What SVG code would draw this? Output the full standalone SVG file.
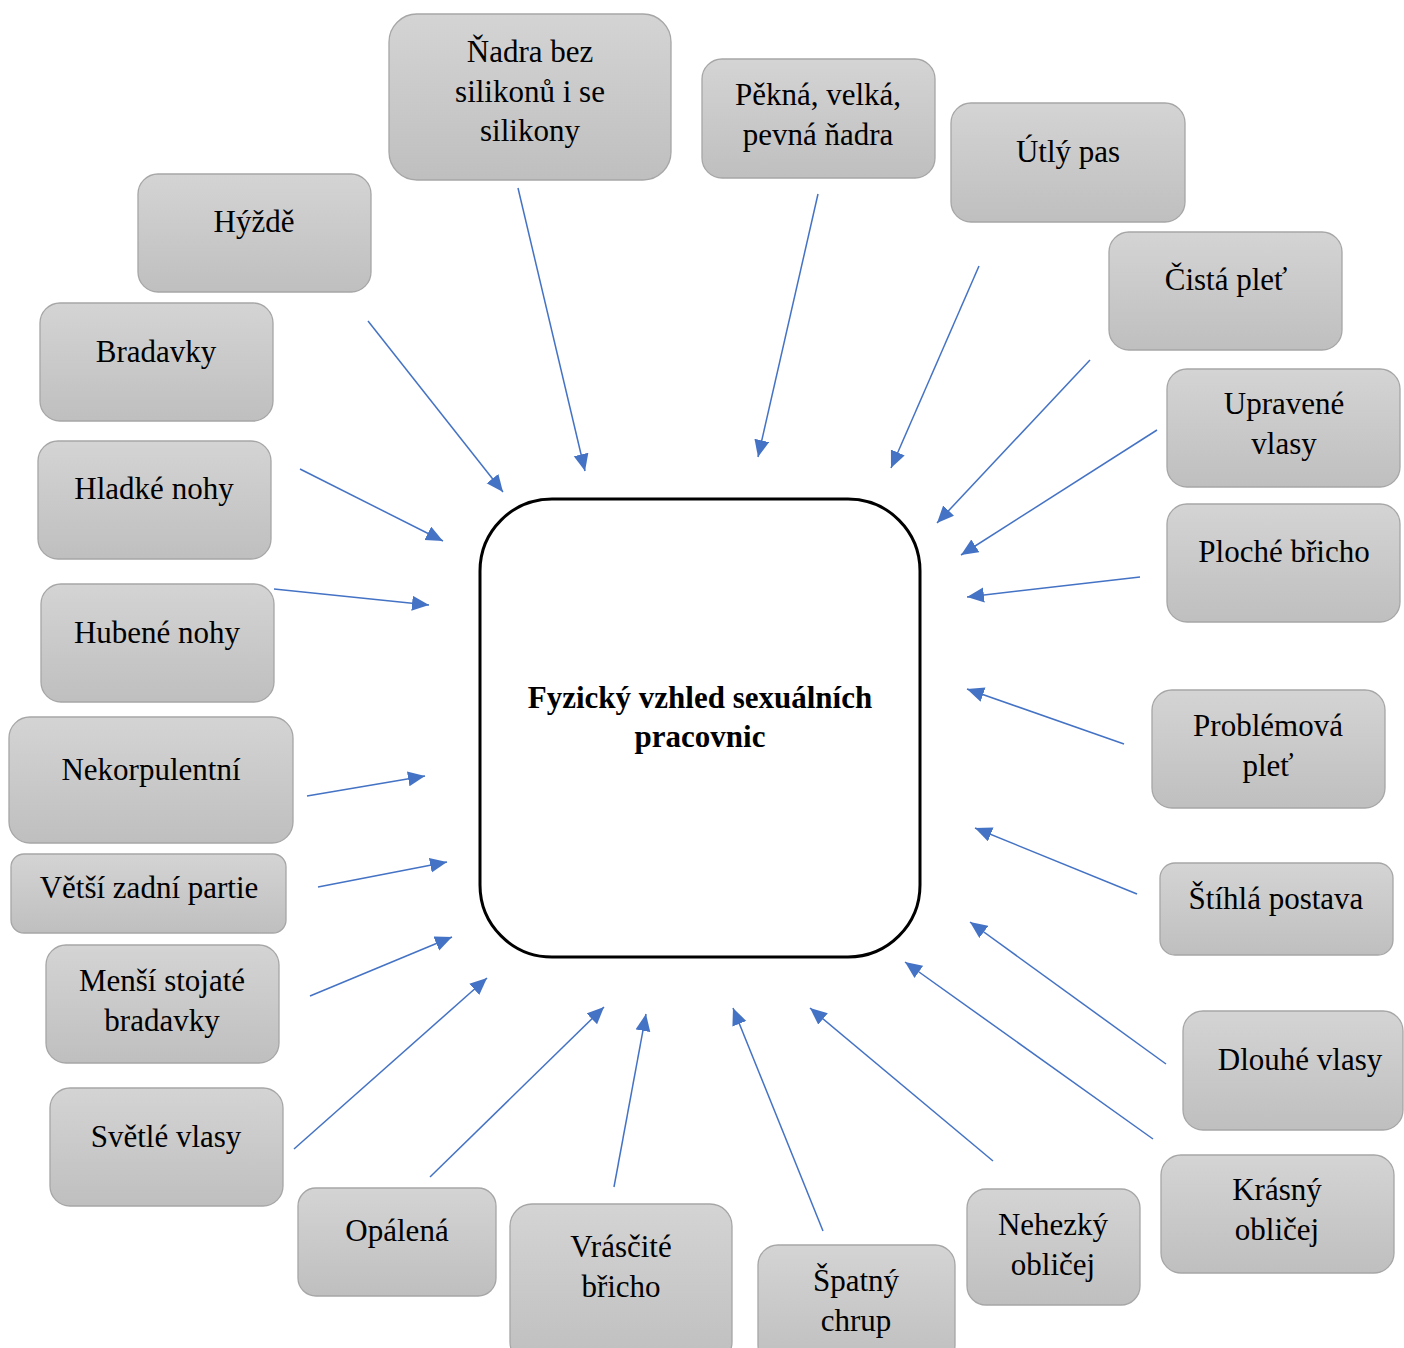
<svg xmlns="http://www.w3.org/2000/svg" width="1404" height="1348" viewBox="0 0 1404 1348">
<style>
.n rect{fill:url(#g);stroke:#a6a6a6;stroke-width:1.3}
.n text,.c text{font-family:"Liberation Serif","Times New Roman",serif;font-size:31px;fill:#000;text-anchor:middle}
.c text{font-weight:bold}
#edges line{stroke:#4472c4;stroke-width:1.5;marker-end:url(#a)}
</style>
<defs>
<linearGradient id="g" x1="0" y1="0" x2="0" y2="1">
<stop offset="0" stop-color="#d4d4d4"/>
<stop offset="1" stop-color="#bfbfbf"/>
</linearGradient>
<marker id="a" markerUnits="userSpaceOnUse" markerWidth="18" markerHeight="16" refX="17" refY="7.5" orient="auto">
<path d="M0,0 L17,7.5 L0,15 z" fill="#4472c4"/>
</marker>
</defs>
<rect width="1404" height="1348" fill="#fff"/>
<g id="edges">
<line x1="518" y1="188" x2="585" y2="471"/>
<line x1="818" y1="194" x2="758" y2="457"/>
<line x1="979" y1="266" x2="891" y2="468"/>
<line x1="1090" y1="360" x2="937" y2="523"/>
<line x1="1157" y1="430" x2="961" y2="555"/>
<line x1="1140" y1="577" x2="967" y2="597"/>
<line x1="1124" y1="744" x2="967" y2="689"/>
<line x1="1137" y1="894" x2="975" y2="828"/>
<line x1="1166" y1="1064" x2="970" y2="922"/>
<line x1="1153" y1="1139" x2="905" y2="962"/>
<line x1="993" y1="1161" x2="810" y2="1008"/>
<line x1="823" y1="1231" x2="733" y2="1008"/>
<line x1="614" y1="1187" x2="646" y2="1014"/>
<line x1="430" y1="1177" x2="604" y2="1007"/>
<line x1="294" y1="1149" x2="487" y2="978"/>
<line x1="310" y1="996" x2="452" y2="937"/>
<line x1="318" y1="887" x2="447" y2="862"/>
<line x1="307" y1="796" x2="425" y2="776"/>
<line x1="274" y1="589" x2="429" y2="605"/>
<line x1="300" y1="469" x2="443" y2="541"/>
<line x1="368" y1="321" x2="503" y2="492"/>
</g>
<g id="center" class="c">
<rect x="480" y="499" width="440" height="458" rx="72" fill="#fff" stroke="#000" stroke-width="3"/>
<text x="700" y="708">Fyzický vzhled sexuálních</text>
<text x="700" y="747">pracovnic</text>
</g>
<g id="n1" class="n"><rect x="389" y="14" width="282" height="166" rx="28"/><text x="530" y="62">Ňadra bez</text><text x="530" y="102">silikonů i se</text><text x="530" y="141">silikony</text></g>
<g id="n2" class="n"><rect x="702" y="59" width="233" height="119" rx="20"/><text x="818" y="105">Pěkná, velká,</text><text x="818" y="145">pevná ňadra</text></g>
<g id="n3" class="n"><rect x="951" y="103" width="234" height="119" rx="20"/><text x="1068" y="162">Útlý pas</text></g>
<g id="n4" class="n"><rect x="1109" y="232" width="233" height="118" rx="20"/><text x="1226" y="290">Čistá pleť</text></g>
<g id="n5" class="n"><rect x="1167" y="369" width="233" height="118" rx="20"/><text x="1284" y="414">Upravené</text><text x="1284" y="454">vlasy</text></g>
<g id="n6" class="n"><rect x="1167" y="504" width="233" height="118" rx="20"/><text x="1284" y="562">Ploché břicho</text></g>
<g id="n7" class="n"><rect x="1152" y="690" width="233" height="118" rx="20"/><text x="1268" y="736">Problémová</text><text x="1268" y="776">pleť</text></g>
<g id="n8" class="n"><rect x="1160" y="863" width="233" height="92" rx="15"/><text x="1276" y="909">Štíhlá postava</text></g>
<g id="n9" class="n"><rect x="1183" y="1011" width="220" height="119" rx="20"/><text x="1300" y="1070">Dlouhé vlasy</text></g>
<g id="n10" class="n"><rect x="1161" y="1155" width="233" height="118" rx="20"/><text x="1277" y="1200">Krásný</text><text x="1277" y="1240">obličej</text></g>
<g id="n11" class="n"><rect x="967" y="1189" width="173" height="116" rx="19"/><text x="1053" y="1235">Nehezký</text><text x="1053" y="1275">obličej</text></g>
<g id="n12" class="n"><rect x="758" y="1245" width="197" height="120" rx="20"/><text x="856" y="1291">Špatný</text><text x="856" y="1331">chrup</text></g>
<g id="n13" class="n"><rect x="510" y="1204" width="222" height="160" rx="22"/><text x="621" y="1257">Vrásčité</text><text x="621" y="1297">břicho</text></g>
<g id="n14" class="n"><rect x="298" y="1188" width="198" height="108" rx="18"/><text x="397" y="1241">Opálená</text></g>
<g id="n15" class="n"><rect x="50" y="1088" width="233" height="118" rx="20"/><text x="166" y="1147">Světlé vlasy</text></g>
<g id="n16" class="n"><rect x="46" y="945" width="233" height="118" rx="20"/><text x="162" y="991">Menší stojaté</text><text x="162" y="1031">bradavky</text></g>
<g id="n17" class="n"><rect x="11" y="854" width="275" height="79" rx="13"/><text x="149" y="898">Větší zadní partie</text></g>
<g id="n18" class="n"><rect x="9" y="717" width="284" height="126" rx="21"/><text x="151" y="780">Nekorpulentní</text></g>
<g id="n19" class="n"><rect x="41" y="584" width="233" height="118" rx="20"/><text x="157" y="643">Hubené nohy</text></g>
<g id="n20" class="n"><rect x="38" y="441" width="233" height="118" rx="20"/><text x="154" y="499">Hladké nohy</text></g>
<g id="n21" class="n"><rect x="40" y="303" width="233" height="118" rx="20"/><text x="156" y="362">Bradavky</text></g>
<g id="n22" class="n"><rect x="138" y="174" width="233" height="118" rx="20"/><text x="254" y="232">Hýždě</text></g>
</svg>
